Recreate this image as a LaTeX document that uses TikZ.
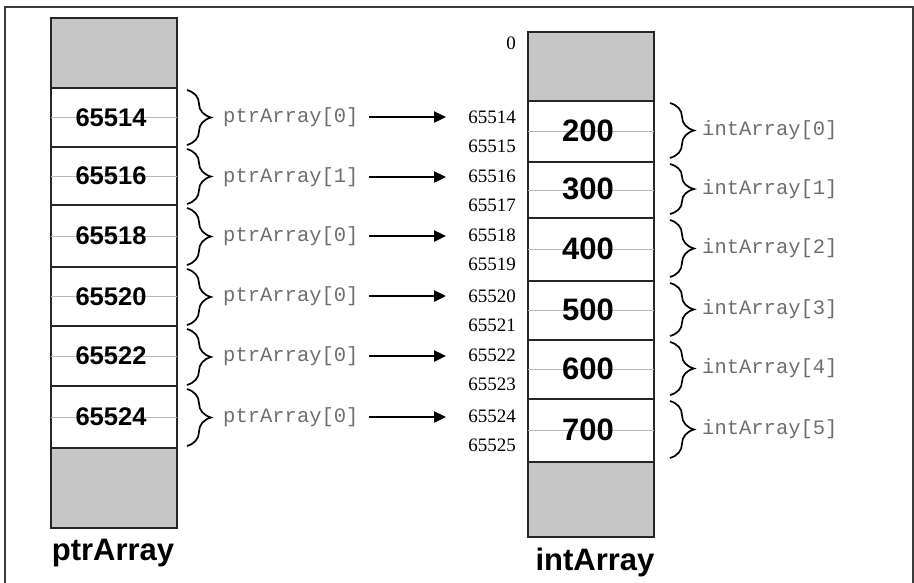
\documentclass[tikz,border=0pt]{standalone}
\usepackage{fontspec}
\setmainfont{Liberation Serif}
\setsansfont{Liberation Sans}
\setmonofont{Liberation Mono}
\usetikzlibrary{decorations.pathreplacing,arrows.meta}
\definecolor{cellgray}{RGB}{198,198,198}
\definecolor{midline}{RGB}{185,185,185}
\definecolor{monogray}{RGB}{110,110,110}
\definecolor{framegray}{RGB}{60,60,60}
\tikzset{
  cellbox/.style={draw=black!85, line width=1.6pt},
  grayblock/.style={draw=black!85, fill=cellgray, line width=1.6pt},
  midrule/.style={draw=midline, line width=0.9pt},
  boldnum/.style={font=\sffamily\bfseries\fontsize{25.5}{25.5}\selectfont, inner sep=0pt},
  valnum/.style={font=\sffamily\bfseries\fontsize{31}{31}\selectfont, inner sep=0pt},
  addr/.style={font=\fontsize{19}{19}\selectfont, inner sep=0pt, anchor=east},
  monolab/.style={font=\ttfamily\fontsize{20.5}{20.5}\selectfont, text=monogray, inner sep=0pt, anchor=west},
  arrlab/.style={font=\sffamily\bfseries\fontsize{31}{31}\selectfont, inner sep=0pt},
  bracedec/.style={decorate, decoration={brace, amplitude=24pt}, line width=1.7pt},
  ptrarrow/.style={-{Triangle[length=12pt,width=11pt]}, line width=2.4pt},
}
\begin{document}
\begin{tikzpicture}[x=1pt,y=-1pt]
\useasboundingbox (0,0) rectangle (914,582);
% outer frame (no bottom edge visible)
\draw[framegray, line width=1.8pt] (5,600) -- (5,7) -- (913,7) -- (913,600);

% ---------- left column: ptrArray ----------
\def\lx{51}\def\rx{177}
\draw[grayblock] (\lx,18) rectangle (\rx,88);
\draw[grayblock] (\lx,448) rectangle (\rx,528);
\foreach \t/\b/\v [count=\i] in {88/147/65514,147/205/65516,205/267/65518,267/326/65520,326/386/65522,386/448/65524}{
  \draw[cellbox] (\lx,\t) rectangle (\rx,\b);
  \pgfmathsetmacro{\m}{(\t+\b)/2}
  \draw[midrule] (\lx,\m) -- (\rx,\m);
  \node[boldnum] (p\i) at (111,\m) {\v};
}
\node[arrlab] (ptrname) at (113,553) {ptrArray};

% braces + labels + arrows on the left
\foreach \t/\b/\y/\k [count=\i] in {90/145/117/0,149/204/177/1,208/265/236/0,269/325/296/0,329/385/356/0,389/446/417/0}{
  \draw[bracedec] (187,\t) -- (187,\b);
  \node[monolab] (pl\i) at (223,\y) {ptrArray[\k]};
  \coordinate (as\i) at (369,\y);
  \coordinate (ae\i) at (446,\y);
  \draw[ptrarrow] (as\i) -- (ae\i);
}

% ---------- right column: intArray ----------
\def\Lx{528}\def\Rx{654}
\draw[grayblock] (\Lx,32) rectangle (\Rx,101);
\draw[grayblock] (\Lx,462) rectangle (\Rx,537);
\node[addr] (a0) at (516,43) {0};
\foreach \t/\b/\v/\aa/\ab [count=\i] in {101/162/200/65514/65515,162/218/300/65516/65517,218/281/400/65518/65519,281/340/500/65520/65521,340/399/600/65522/65523,399/462/700/65524/65525}{
  \draw[cellbox] (\Lx,\t) rectangle (\Rx,\b);
  \pgfmathsetmacro{\m}{(\t+\b)/2}
  \draw[midrule] (\Lx,\m) -- (\Rx,\m);
  \node[valnum] (v\i) at (588,\m-1) {\v};
  \node[addr] (at\i) at (516,\m-14) {\aa};
  \node[addr] (ab\i) at (516,\m+15) {\ab};
  \draw[bracedec] (670,\t+2) -- (670,\b-4);
  \node[monolab] (il\i) at (702,\m-1) {intArray[\the\numexpr\i-1\relax]};
}
\node[arrlab] (intname) at (595,562) {intArray};
\end{tikzpicture}
\end{document}
